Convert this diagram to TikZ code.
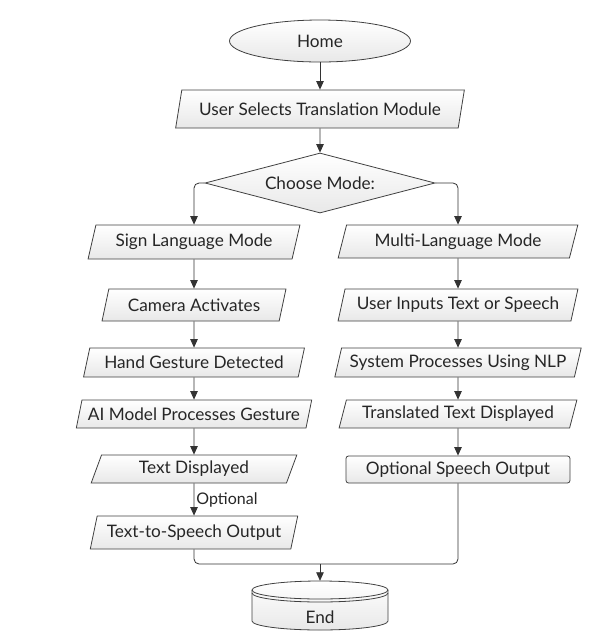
\documentclass[tikz,border=0pt]{standalone}
\usepackage{fontspec}
\setmainfont{Lato}
\usepackage{tikz}
\usetikzlibrary{arrows.meta,positioning,shapes.geometric}

\begin{document}
\begin{tikzpicture}[x=1pt, y=-1pt,
font=\fontsize{17.2}{20}\selectfont,
>={Triangle[length=8.5pt,width=7.5pt]},
base/.style={draw=black!75, line width=0.8pt, top color=white, bottom color=black!9,
  text=black!85, inner sep=2pt},
para/.style={base, trapezium, trapezium left angle=72, trapezium right angle=108,
  trapezium stretches=true},
box/.style={base, rectangle, rounded corners=2.5pt},
choice/.style={base, diamond, aspect=3.8, inner sep=0pt},
link/.style={->, draw=black!80, line width=0.8pt, rounded corners=5pt}]
\useasboundingbox (0,0) rectangle (597,633);

% top part
\node[base, ellipse, minimum width=181, minimum height=42] (home) at (320,41) {Home};
\node[para, minimum width=289, minimum height=38] (select) at (320,109) {User Selects Translation Module};
\node[choice, minimum width=230, minimum height=60] (choose) at (320,183) {Choose Mode:};

% sign language branch
\node[para, minimum width=212, minimum height=34] (sign) at (194,242) {Sign Language Mode};
\node[para, minimum width=184, minimum height=32] (camera) at (194,305) {Camera Activates};
\node[para, minimum width=221, minimum height=29] (hand) at (194,362.5) {Hand Gesture Detected};
\node[para, minimum width=236, minimum height=28] (model) at (194,414) {AI Model Processes Gesture};
\node[para, minimum width=206, minimum height=28] (shown) at (194,469) {Text Displayed};
\node[para, minimum width=208, minimum height=33] (tts) at (194,532.5) {Text-to-Speech Output};

% multi-language branch
\node[para, minimum width=240, minimum height=33] (multi) at (458,241.5) {Multi-Language Mode};
\node[para, minimum width=240, minimum height=32] (inputs) at (458,305) {User Inputs Text or Speech};
\node[para, minimum width=247, minimum height=29] (nlp) at (458,362.5) {System Processes Using NLP};
\node[para, minimum width=238, minimum height=28] (trans) at (458,414) {Translated Text Displayed};
\node[box, minimum width=224, minimum height=27] (speech) at (458,469.5) {Optional Speech Output};

% end (database shape)
\path[base] (252,590) -- (252,621) arc[start angle=180, end angle=360, x radius=68pt, y radius=9pt]
  -- (388,590) arc[start angle=0, end angle=180, x radius=68pt, y radius=9pt] -- cycle;
\draw[black!75, line width=0.8pt] (252,590) arc[start angle=180, end angle=360, x radius=68pt, y radius=9pt];
\draw[black!75, line width=0.8pt] (252,593) arc[start angle=180, end angle=360, x radius=68pt, y radius=9pt];
\node[text=black!85, minimum width=136, minimum height=49, inner sep=0pt,
  text height=35pt, text depth=0pt] (end) at (320,605.5) {End};
\coordinate (join) at (320,564);

% connectors
\draw[link] (home) -- (select);
\draw[link] (select) -- (choose);
\draw[link] (choose.west) -| (sign.north);
\draw[link] (choose.east) -| (multi.north);
\draw[link] (sign) -- (camera);
\draw[link] (camera) -- (hand);
\draw[link] (hand) -- (model);
\draw[link] (model) -- (shown);
\draw[link] (shown) -- node[right, font=\fontsize{16}{18}\selectfont, text=black!85, inner sep=2pt]{Optional} (tts);
\draw[link] (multi) -- (inputs);
\draw[link] (inputs) -- (nlp);
\draw[link] (nlp) -- (trans);
\draw[link] (trans) -- (speech);
\draw[draw=black!80, line width=0.8pt, rounded corners=5pt] (tts.south) |- (join) -| (speech.south);
\draw[link] (join) -- (end.north);
\end{tikzpicture}
\end{document}
